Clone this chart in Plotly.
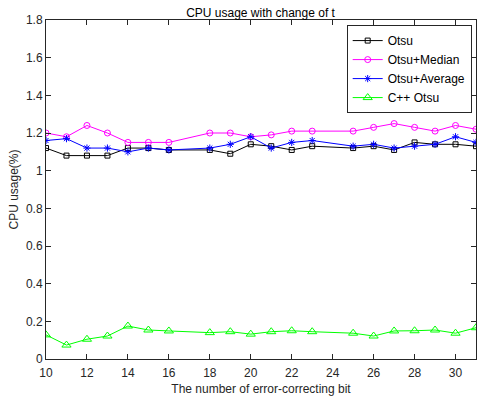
import plotly.graph_objects as go

x_bits = [10, 11, 12, 13, 14, 15, 16, 18, 19, 20, 21, 22, 23, 25, 26, 27, 28, 29, 30, 31]
otsu = [1.12, 1.08, 1.08, 1.08, 1.12, 1.12, 1.11, 1.11, 1.09, 1.14, 1.13, 1.11, 1.13, 1.12, 1.13, 1.11, 1.15, 1.14, 1.14, 1.13]
otsu_median = [1.20, 1.18, 1.24, 1.20, 1.15, 1.15, 1.15, 1.20, 1.20, 1.18, 1.19, 1.21, 1.21, 1.21, 1.23, 1.25, 1.23, 1.21, 1.24, 1.22]
otsu_average = [1.16, 1.17, 1.12, 1.12, 1.10, 1.12, 1.11, 1.12, 1.14, 1.18, 1.12, 1.15, 1.16, 1.13, 1.14, 1.12, 1.13, 1.14, 1.18, 1.15]
cpp_otsu = [0.128, 0.074, 0.105, 0.122, 0.175, 0.154, 0.149, 0.140, 0.145, 0.132, 0.145, 0.150, 0.145, 0.137, 0.122, 0.149, 0.150, 0.154, 0.137, 0.166]

x_ticks = [10, 12, 14, 16, 18, 20, 22, 24, 26, 28, 30]
y_ticks = [0, 0.2, 0.4, 0.6, 0.8, 1, 1.2, 1.4, 1.6, 1.8]

fig = go.Figure()
series = [
    ("Otsu", otsu, "#000000", "square-open", 5),
    ("Otsu+Median", otsu_median, "#ff00ff", "circle-open", 6),
    ("Otsu+Average", otsu_average, "#0000ff", "asterisk-open", 6),
    ("C++ Otsu", cpp_otsu, "#00ff00", "triangle-up-open", 8),
]
for name, ys, col, sym, sz in series:
    fig.add_trace(go.Scatter(
        x=x_bits, y=ys, name=name, mode="lines+markers",
        line=dict(color=col, width=1),
        marker=dict(symbol=sym, size=sz, color=col, line=dict(color=col, width=1)),
    ))

axis_common = dict(
    showline=True, linecolor="#262626", linewidth=1, mirror="ticks",
    ticks="inside", ticklen=5, tickcolor="#262626", showgrid=False, zeroline=False,
    tickfont=dict(family="Liberation Sans, Arial", size=12, color="#262626"),
)
fig.update_xaxes(range=[10, 31], tickvals=x_ticks, ticklabelstandoff=3,
                 title=dict(text="The number of error-correcting bit",
                            font=dict(family="Liberation Sans, Arial", size=12, color="#262626"),
                            standoff=5),
                 **axis_common)
fig.update_yaxes(range=[0, 1.8], tickvals=y_ticks,
                 title=dict(text="CPU usage(%)",
                            font=dict(family="Liberation Sans, Arial", size=12, color="#262626"),
                            standoff=4),
                 **axis_common)

fig.update_layout(
    width=478, height=397,
    margin=dict(l=46, r=2, t=20, b=38),
    paper_bgcolor="white", plot_bgcolor="white",
    title=dict(text="CPU usage with change of t", x=0.545, xanchor="center", y=0.968, yanchor="middle",
               font=dict(family="Liberation Sans, Arial", size=12, color="#000000")),
    legend=dict(x=0.99, y=0.985, xanchor="right", yanchor="top",
                bordercolor="#262626", borderwidth=1, bgcolor="white",
                font=dict(family="Liberation Sans, Arial", size=12, color="#000000"),
                tracegroupgap=0, itemwidth=30),
    showlegend=True,
)

fig.write_html("out.html")
